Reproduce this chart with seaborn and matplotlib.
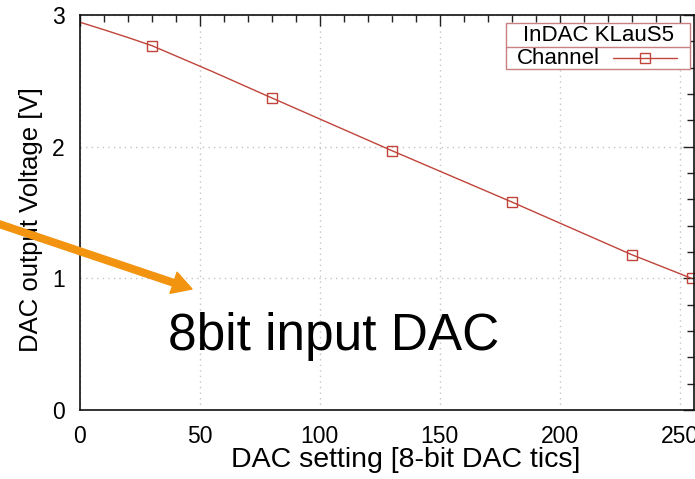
import numpy as np
import matplotlib
matplotlib.use("Agg")
import matplotlib.pyplot as plt
import seaborn as sns
from matplotlib.lines import Line2D
from matplotlib.patches import Rectangle
from matplotlib.ticker import MultipleLocator

# values
dac = [0, 10, 20, 30, 55, 80, 105, 130, 155, 180, 205, 230, 255]
volt = [2.945, 2.888, 2.829, 2.767, 2.572, 2.37, 2.17, 1.97, 1.775, 1.58, 1.38, 1.18, 1.00]
marked = [30, 80, 130, 180, 230, 255]
legend_title = "InDAC KLauS5"
series_name = "Channel"
note = "8bit input DAC"

red = "#c0443a"
orange = "#f39410"

sns.set_style("white")
plt.rcParams["font.family"] = ["Liberation Sans", "DejaVu Sans"]
for key in ["text.color", "axes.labelcolor", "xtick.color", "ytick.color"]:
    plt.rcParams[key] = "black"

fig = plt.figure(figsize=(6.95, 4.79), dpi=100)
ax = fig.add_axes([80 / 695, 1 - 410 / 479, 614 / 695, 395 / 479])

idx = [dac.index(v) for v in marked]
sns.lineplot(x=dac, y=volt, ax=ax, color=red, lw=1.0, marker="s", markevery=idx,
             markersize=7, mfc="none", mec=red, mew=1.0)

ax.set_xlim(0, 256)
ax.set_ylim(0, 3)
ax.xaxis.set_major_locator(MultipleLocator(50))
ax.xaxis.set_minor_locator(MultipleLocator(10))
ax.yaxis.set_major_locator(MultipleLocator(1))
ax.yaxis.set_minor_locator(MultipleLocator(0.2))
ax.tick_params(which="both", direction="in", top=True, right=True, color="#222222")
ax.tick_params(which="major", length=8, width=1, pad=11, labelsize=16.5)
ax.tick_params(which="minor", length=5, width=1)
ax.grid(True, which="major", ls=(0, (1, 3)), color="#c4c4c4", lw=1)
for s in ax.spines.values():
    s.set_color("#111111")
    s.set_linewidth(1.2)

ax.set_xlabel("DAC setting [8-bit DAC tics]", fontsize=20.5)
ax.set_ylabel("DAC output Voltage [V]", fontsize=18.5)
ax.xaxis.label.set_va("baseline")
ax.yaxis.label.set_va("baseline")
ax.xaxis.set_label_coords(0.531, -0.145)
ax.yaxis.set_label_coords(-0.068, 0.481)

ax.text(36.5, 0.456, note, fontsize=37, va="baseline", ha="left")

# gnuplot style key box
box = Rectangle((0.694, 0.863), 0.2995, 0.117, transform=ax.transAxes,
                fill=True, fc="white", ec="#c88080", lw=1, zorder=5)
ax.add_patch(box)
ax.add_line(Line2D([0.694, 0.9935], [0.919, 0.919], transform=ax.transAxes,
                   color="#c88080", lw=1, zorder=6))
ax.text(0.844, 0.949, legend_title, transform=ax.transAxes, fontsize=16,
        ha="center", va="center", zorder=6)
ax.text(0.711, 0.891, series_name, transform=ax.transAxes, fontsize=16,
        ha="left", va="center", zorder=6)
ax.add_line(Line2D([0.868, 0.972], [0.891, 0.891], transform=ax.transAxes,
                   color=red, lw=1, zorder=6))
ax.add_line(Line2D([0.920], [0.891], transform=ax.transAxes, color=red,
                   marker="s", markersize=7, mfc="none", mew=1, zorder=7))

ann = ax.annotate("", xy=(192 / 695, 1 - 289 / 479), xytext=(-0.01, 1 - 222 / 479),
                  xycoords="figure fraction", textcoords="figure fraction",
                  arrowprops=dict(width=4.8, headwidth=16, headlength=14, color=orange),
                  annotation_clip=False, zorder=10)
ann.set_clip_on(False)
ann.arrow_patch.set_clip_on(False)

fig.savefig("out.png", dpi=100)
